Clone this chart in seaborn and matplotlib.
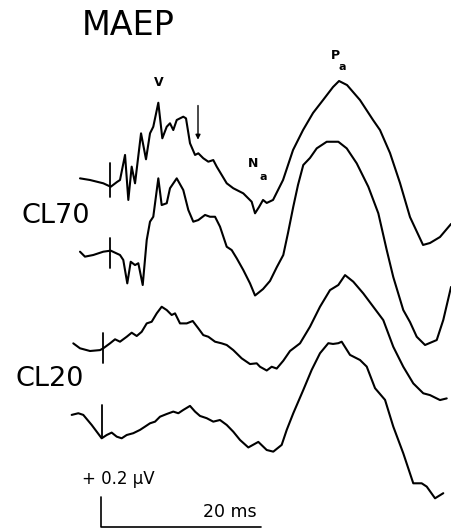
import numpy as np
import pandas as pd
import seaborn as sns
import matplotlib
matplotlib.use("Agg")
import matplotlib.pyplot as plt

# ---- data (time in ms, amplitude in µV relative to each trace's baseline) ----
trace_names = ["CL70 a", "CL70 b", "CL20 a", "CL20 b"]

t1 = [-3.0, -1.75, -0.09, 0.84, 1.63, 2.0, 2.63, 3.04, 3.46, 3.88, 4.63, 5.25, 5.75, 6.16, 6.79, 7.29,
      7.84, 8.25, 8.66, 9.09, 9.91, 10.25, 10.75, 11.38, 11.79, 12.41, 13.04, 13.66, 14.09, 15.34,
      16.16, 17.41, 18.46, 18.88, 19.38, 19.88, 20.34, 21.13, 22.38, 23.63, 24.88, 26.13, 27.38,
      28.63, 29.38, 30.38, 32.0, 33.63, 34.5, 35.75, 37.0, 38.25, 39.88, 40.75, 42.0, 43.38]
a1 = [0.031, 0.02, -0.002, -0.025, 0.007, 0.02, 0.187, -0.113, 0.109, -0.002, 0.331, 0.158, 0.331,
      0.375, 0.535, 0.298, 0.375, 0.398, 0.353, 0.42, 0.442, 0.431, 0.265, 0.187, 0.198, 0.165,
      0.142, 0.153, 0.109, -0.002, -0.035, -0.069, -0.125, -0.202, -0.16, -0.113, -0.133, -0.113,
      0.02, 0.22, 0.353, 0.467, 0.553, 0.64, 0.68, 0.653, 0.553, 0.42, 0.353, 0.2, 0.0, -0.227,
      -0.413, -0.4, -0.36, -0.273]

t2 = [-3.0, -2.38, -1.34, -0.09, 0.84, 2.0, 2.41, 2.91, 3.34, 3.88, 4.29, 4.84, 5.34, 5.75, 6.16,
      6.79, 7.21, 7.84, 8.25, 9.09, 9.91, 10.54, 11.16, 11.79, 12.63, 13.25, 13.88, 14.5, 15.34,
      15.96, 16.59, 17.41, 18.25, 18.88, 19.88, 20.75, 21.59, 22.41, 23.0, 23.66, 24.25, 24.91,
      25.75, 26.59, 27.84, 29.29, 30.34, 31.59, 33.04, 34.29, 35.34, 36.16, 37.41, 38.25, 39.09,
      40.13, 41.59, 42.41, 43.38]
a2 = [0.002, -0.031, -0.02, 0.002, 0.009, -0.02, -0.053, -0.209, -0.065, -0.087, -0.075, -0.22,
      0.08, 0.202, 0.235, 0.491, 0.313, 0.325, 0.425, 0.491, 0.413, 0.28, 0.202, 0.213, 0.247,
      0.235, 0.235, 0.169, 0.035, 0.013, -0.042, -0.12, -0.209, -0.29, -0.247, -0.193, -0.102,
      -0.02, 0.127, 0.302, 0.447, 0.58, 0.627, 0.691, 0.735, 0.735, 0.691, 0.591, 0.435, 0.258,
      0.013, -0.167, -0.387, -0.467, -0.565, -0.62, -0.587, -0.453, -0.233]

t3 = [-3.84, -3.0, -1.75, -0.5, -0.09, 0.75, 1.38, 2.0, 2.84, 3.46, 4.09, 4.71, 5.34, 5.96, 6.59,
      7.21, 7.84, 8.46, 8.88, 9.5, 10.34, 11.09, 11.79, 12.41, 13.04, 13.88, 14.71, 15.34, 16.16,
      17.21, 18.25, 19.09, 19.5, 20.34, 20.96, 21.59, 22.41, 23.25, 24.5, 25.75, 27.0, 28.25,
      29.29, 30.13, 31.16, 32.41, 33.66, 34.91, 36.16, 37.41, 38.66, 39.91, 40.75, 42.0, 42.84]
a3 = [0.038, 0.005, -0.013, -0.007, 0.005, 0.038, 0.065, 0.049, 0.082, 0.109, 0.087, 0.115, 0.171,
      0.182, 0.238, 0.282, 0.26, 0.227, 0.238, 0.171, 0.171, 0.187, 0.138, 0.093, 0.082, 0.049,
      0.038, 0.027, -0.007, -0.062, -0.1, -0.095, -0.118, -0.143, -0.118, -0.13, -0.078, -0.013,
      0.038, 0.149, 0.282, 0.393, 0.427, 0.493, 0.449, 0.371, 0.282, 0.193, 0.015, -0.118, -0.229,
      -0.295, -0.307, -0.34, -0.329]

t4 = [-4.04, -3.21, -2.59, -1.54, -0.29, 0.34, 0.96, 1.59, 2.21, 2.84, 3.66, 4.5, 5.13, 5.75, 6.38,
      7.0, 7.84, 8.66, 9.29, 9.91, 10.75, 11.38, 12.0, 12.84, 13.66, 14.5, 15.34, 16.16, 17.0,
      18.04, 19.29, 20.34, 21.16, 22.21, 22.84, 23.66, 24.91, 25.96, 27.0, 28.04, 28.63, 29.29,
      29.71, 30.75, 32.0, 32.84, 33.88, 35.13, 36.16, 37.41, 38.66, 39.71, 40.34, 41.38, 42.41]
a4 = [0.067, 0.078, 0.067, 0.0, -0.089, -0.067, -0.051, -0.078, -0.089, -0.067, -0.055, -0.033,
      -0.011, 0.011, 0.022, 0.055, 0.073, 0.089, 0.078, 0.1, 0.127, 0.089, 0.06, 0.045, 0.022,
      0.033, 0.0, -0.045, -0.1, -0.15, -0.113, -0.167, -0.178, -0.133, -0.033, 0.078, 0.233,
      0.367, 0.478, 0.545, 0.54, 0.545, 0.555, 0.467, 0.433, 0.389, 0.245, 0.167, -0.011, -0.189,
      -0.389, -0.389, -0.411, -0.489, -0.455]

# stimulus marker times (ms) and their extent above/below baseline (µV)
stim_t = [0.75, 0.75, -0.1, -0.25]
stim_up = [0.133, 0.093, 0.107, 0.133]
stim_dn = [-0.093, -0.107, -0.093, -0.08]

# ---- layout ----
offsets = [2.30, 1.84, 1.193, 0.687]   # vertical position of each trace baseline
times = [t1, t2, t3, t4]
amps = [a1, a2, a3, a4]

rows = []
for name, tt, aa, off in zip(trace_names, times, amps, offsets):
    for order, (t, a) in enumerate(zip(tt, aa)):
        rows.append({"trace": name, "order": order, "time": t, "amp": a + off})
df = pd.DataFrame(rows)

sns.set_theme(style="white")
plt.rcParams["font.family"] = ["DejaVu Sans"]
plt.rcParams["text.color"] = "black"

fig = plt.figure(figsize=(4.51, 5.28), dpi=100)
ax = fig.add_axes([0, 0, 1, 1])

sns.lineplot(data=df, x="time", y="amp", units="trace", estimator=None, sort=False,
             color="black", linewidth=1.5, ax=ax, legend=False)
for ln in ax.get_lines():
    ln.set_solid_joinstyle("round")
    ln.set_solid_capstyle("round")

# stimulus markers
for st, up, dn, off in zip(stim_t, stim_up, stim_dn, offsets):
    ax.plot([st, st], [off + dn, off + up], color="black", lw=1.3)

# arrow on top trace
ax.annotate("", xy=(11.75, offsets[0] + 0.27), xytext=(11.75, offsets[0] + 0.535),
            arrowprops=dict(arrowstyle="-|>", color="black", lw=1.0, mutation_scale=7))

# scale bars
sb_t, sb_y = -0.375, 0.007
ax.plot([sb_t, sb_t, sb_t + 20], [sb_y + 0.2, sb_y, sb_y], color="black", lw=1.2)
ax.text(-2.75, 0.327, "+ 0.2 µV", fontsize=12, ha="left", va="center")
ax.text(15.75, 0.107, "20 ms", fontsize=12.5, ha="center", va="center")

# labels
ax.text(-2.75, 3.35, "MAEP", fontsize=24, ha="left", va="center")
ax.text(-10.3, 2.08, "CL70", fontsize=19.5, ha="left", va="center")
ax.text(-11.1, 0.993, "CL20", fontsize=19.5, ha="left", va="center")
ax.text(6.9, 2.967, "V", fontsize=9, ha="center", va="center", fontweight="bold")
ax.text(18.6, 2.427, "N", fontsize=9, ha="center", va="center", fontweight="bold")
ax.text(19.9, 2.34, "a", fontsize=8, ha="center", va="center", fontweight="bold")
ax.text(28.9, 3.153, "P", fontsize=9, ha="center", va="center", fontweight="bold")
ax.text(29.75, 3.073, "a", fontsize=8, ha="center", va="center", fontweight="bold")

ax.set_xlim(-13.0, 43.375)
ax.set_ylim(0.0, 3.52)
ax.set_axis_off()

fig.savefig("out.png", dpi=100, facecolor="white")
